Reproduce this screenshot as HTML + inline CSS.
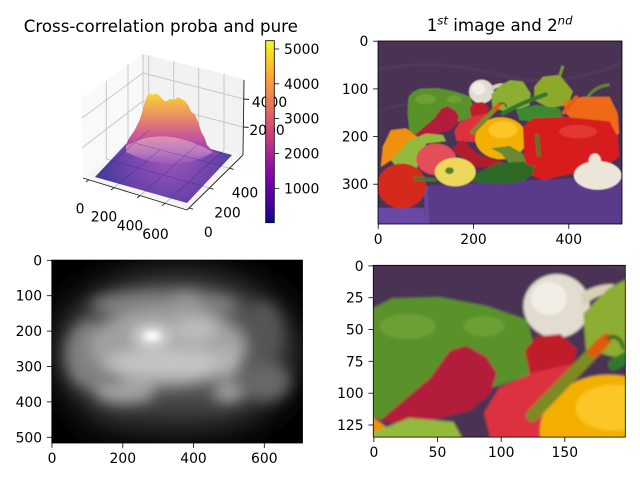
<!DOCTYPE html>
<html><head><meta charset="utf-8"><style>
html,body{margin:0;padding:0;background:#fff;width:640px;height:480px;overflow:hidden;}
svg{display:block;}
text{font-family:"DejaVu Sans","Liberation Sans",sans-serif;fill:#000;}
</style></head><body>
<svg width="640" height="480" viewBox="0 0 640 480" xmlns="http://www.w3.org/2000/svg" style="position:absolute;left:0;top:0;overflow:hidden">
<defs>
<linearGradient id="plasma" x1="0" y1="1" x2="0" y2="0">
<stop offset="0" stop-color="#0d0887"/><stop offset="0.1" stop-color="#41049d"/><stop offset="0.2" stop-color="#6a00a8"/><stop offset="0.3" stop-color="#8f0da4"/><stop offset="0.4" stop-color="#b12a90"/><stop offset="0.5" stop-color="#cc4778"/><stop offset="0.6" stop-color="#e16462"/><stop offset="0.7" stop-color="#f2844b"/><stop offset="0.8" stop-color="#fca636"/><stop offset="0.9" stop-color="#fcce25"/><stop offset="1" stop-color="#f0f921"/>
</linearGradient>
<radialGradient id="floorG" gradientUnits="userSpaceOnUse" cx="170" cy="152" r="70">
<stop offset="0" stop-color="#a458b8"/><stop offset="0.5" stop-color="#7a48b0"/><stop offset="1" stop-color="#4a3c9c"/>
</radialGradient>
<linearGradient id="bumpG" gradientUnits="userSpaceOnUse" x1="0" y1="92" x2="0" y2="155">
<stop offset="0" stop-color="#f6e03a"/><stop offset="0.12" stop-color="#f6c040"/><stop offset="0.3" stop-color="#eea05a"/><stop offset="0.5" stop-color="#e07878"/><stop offset="0.7" stop-color="#c85a98"/><stop offset="0.85" stop-color="#a848b0"/><stop offset="1" stop-color="#8a44b0"/>
</linearGradient>
<linearGradient id="domeG" gradientUnits="userSpaceOnUse" x1="0" y1="134" x2="0" y2="172">
<stop offset="0" stop-color="#e498b0"/><stop offset="0.5" stop-color="#b878c0"/><stop offset="1" stop-color="#9458b8" stop-opacity="0"/>
</linearGradient>
<filter id="bBig" x="-50%" y="-50%" width="200%" height="200%"><feGaussianBlur stdDeviation="18"/></filter>
<filter id="bMed" x="-50%" y="-50%" width="200%" height="200%"><feGaussianBlur stdDeviation="7"/></filter>
<filter id="bSm" x="-50%" y="-50%" width="200%" height="200%"><feGaussianBlur stdDeviation="3"/></filter>
<filter id="bImg"><feGaussianBlur stdDeviation="1.1"/></filter>
<clipPath id="clipGray"><rect x="51.8" y="260.1" width="250.7" height="182.9"/></clipPath>
<g id="scene">
<rect x="-20" y="-20" width="552" height="424" fill="#4a3252"/>
<path d="M0,60 Q120,35 250,70 T512,45" stroke="#543a5e" stroke-width="8" fill="none" opacity="0.6"/>
<path d="M0,150 Q60,120 140,140" stroke="#553b60" stroke-width="6" fill="none" opacity="0.5"/>
<polygon points="96,304 200,298 408,288 532,284 532,404 100,404" fill="#5a3b8a"/>
<polygon points="-20,350 96,350 102,404 -20,404" fill="#6a4aa6"/>
<polygon points="96,304 104,304 108,404 100,404" fill="#6648a0"/>
<path d="M62,150 L64,118 L72,108 L88,100 L125,99 L162,106 L194,117 L198,133 L196,160 L120,186 L80,196 L66,190 Z" fill="#5a922c"/>
<ellipse cx="100" cy="122" rx="22" ry="10" fill="#78aa3a" opacity="0.6"/>
<ellipse cx="160" cy="122" rx="16" ry="8" fill="#78aa3a" opacity="0.6"/>
<ellipse cx="217" cy="106" rx="26" ry="25" fill="#e2ddd0"/>
<ellipse cx="211" cy="100" rx="14" ry="13" fill="#f2eee6"/>
<path d="M236,96 Q250,88 262,89 L262,95 Q248,97 238,106Z" fill="#d8d0b8"/>
<polygon points="238,112 258,92 278,82 304,85 320,110 318,135 300,142 262,146 240,140" fill="#8cae32"/>
<polygon points="328,124 328,96 346,75 381,71 409,106 398,134 360,141" fill="#8ea82c"/>
<path d="M381,74 L388,52" stroke="#7a9a2a" stroke-width="6" fill="none"/>
<polygon points="290,145 332,134 381,141 388,162 325,169 297,166" fill="#3a8a30"/>
<path d="M262,152 Q300,130 352,112" stroke="#2f7a2a" stroke-width="9" stroke-linecap="round" fill="none"/>
<polygon points="388,127 430,117 486,117 503,152 506,194 486,208 416,173 395,152" fill="#ee6a12"/>
<path d="M440,118 Q455,95 486,92" stroke="#5a8a30" stroke-width="6" fill="none"/>
<path d="M390,150 L416,118" stroke="#e06010" stroke-width="8" stroke-linecap="round" fill="none"/>
<polygon points="192,141 201,130 220,128 233,140 230,152 196,160" fill="#c01c2a"/>
<polygon points="160,190 172,170 200,158 228,152 224,172 208,186 205,212 165,210" fill="#dc3040"/>
<ellipse cx="258" cy="204" rx="54" ry="44" fill="#f4b000"/>
<ellipse cx="262" cy="186" rx="30" ry="18" fill="#fccc30" opacity="0.8"/>
<path d="M198,192 L252,136" stroke="#7e8a22" stroke-width="10" stroke-linecap="round" fill="none"/>
<path d="M246,142 L256,132" stroke="#e05a10" stroke-width="9" stroke-linecap="round" fill="none"/>
<path d="M256,132 Q266,126 270,140" stroke="#3a6a20" stroke-width="3" fill="none"/>
<polygon points="304,180 325,162 388,159 486,169 503,201 506,243 486,257 416,276 346,292 318,280 307,243" fill="#d61e1c"/>
<ellipse cx="420" cy="190" rx="40" ry="14" fill="#e84a40" opacity="0.6"/>
<path d="M333,195 L338,242" stroke="#4a7a28" stroke-width="8" fill="none"/>
<ellipse cx="461" cy="282" rx="50" ry="30" fill="#ebe5da"/>
<ellipse cx="455" cy="252" rx="13" ry="16" fill="#ebe5da"/>
<polygon points="6,264 10,222 27,187 59,183 83,201 73,222 38,243" fill="#f0900e"/>
<polygon points="78,196 91,185 118,162 133,141 146,137 162,146 170,159 165,175 149,188 118,196 91,198" fill="#b41e3a"/>
<polygon points="27,250 66,208 101,194 136,197 143,210 101,215 87,250 80,271 45,271" fill="#94ba3c"/>
<ellipse cx="122" cy="248" rx="42" ry="33" fill="#e25058"/>
<polygon points="157,225 178,208 199,229 220,243 262,253 255,264 206,264 164,236" fill="#b21a2c"/>
<polygon points="237,225 276,220 304,236 311,257 276,257 258,236" fill="#6a8a30"/>
<polygon points="192,295 206,278 248,257 304,253 325,264 331,257 325,278 304,295 262,300" fill="#2e6a28"/>
<ellipse cx="162" cy="275" rx="43" ry="30" fill="#ecd85a"/>
<ellipse cx="150" cy="272" rx="9" ry="7" fill="#5a7a30"/>
<ellipse cx="50" cy="304" rx="51" ry="47" fill="#d42a1e"/>
<path d="M75,288 L122,292" stroke="#3a7a30" stroke-width="8" fill="none"/>
</g>
<pattern id="patTop" patternUnits="userSpaceOnUse" x="378" y="41" width="244" height="183" viewBox="0 0 512 384" preserveAspectRatio="none">
<use href="#scene" filter="url(#bImg)"/>
</pattern>
<pattern id="patCrop" patternUnits="userSpaceOnUse" x="373.3" y="265.3" width="252" height="171.8" viewBox="73 74 198 135" preserveAspectRatio="none">
<use href="#scene" filter="url(#bImg)"/>
</pattern>
</defs>

<!-- ============ Top-left 3D ============ -->
<text x="160.8" y="32" font-size="16.67" text-anchor="middle">Cross-correlation proba and pure</text>
<polygon points="82,98 143,54 143,129 83,178" fill="#f9f9f9"/>
<polygon points="143,54 245,79 243,155 143,129" fill="#f2f2f2"/>
<polygon points="83,178 143,129 243,155 187,210" fill="#f5f5f5"/>
<g stroke="#c8c8c8" stroke-width="1" fill="none">
<line x1="106.3" y1="80.5" x2="106.3" y2="159"/>
<line x1="128" y1="64.9" x2="128" y2="141.3"/>
<line x1="82" y1="148" x2="143" y2="101"/>
<line x1="82" y1="118" x2="143" y2="73"/>
<line x1="148.7" y1="55.4" x2="148.7" y2="130.5"/>
<line x1="173.7" y1="61.5" x2="173.7" y2="137"/>
<line x1="198.7" y1="67.7" x2="198.7" y2="143.5"/>
<line x1="224" y1="73.9" x2="224" y2="150.1"/>
<line x1="143" y1="101" x2="243" y2="127"/>
<line x1="143" y1="73" x2="244" y2="99"/>
<line x1="143" y1="54" x2="143" y2="129"/>
</g>
<polygon points="95,177 140,129 232,155 187,203" fill="url(#floorG)"/>
<path d="M126,145 L128,140 L134.7,130 L139.7,120 L144.7,103 L147,96 L149.5,93 L153,95 L156,93 L160,96 L163,100 L166,101.5 L170,99 L174.7,99.5 L178,97 L181.3,99 L185,101 L188,105 L191.3,111.7 L194.7,114.5 L198,121.7 L201.3,131.7 L204.7,138 L207,145 L213,151.5 L220,154.5 L205,156 L170,153 L140,153 Z" fill="url(#bumpG)"/>
<path d="M126,146 Q163,124 213,152 Q175,176 126,152 Z" fill="url(#domeG)"/>
<g stroke="#2a1a60" stroke-width="0.8" opacity="0.3">
<line x1="98" y1="175" x2="148.7" y2="130.5"/>
<line x1="114" y1="187.6" x2="160" y2="150"/>
<line x1="140" y1="195.6" x2="198.7" y2="143.5"/>
<line x1="165" y1="203.3" x2="224" y2="150.1"/>
<line x1="106.3" y1="159" x2="209.4" y2="188"/>
<line x1="128" y1="141.3" x2="229.6" y2="168.2"/>
</g>
<g stroke="#222" stroke-width="0.9" fill="none">
<line x1="83" y1="178" x2="187" y2="210"/>
<line x1="187" y1="210" x2="243" y2="155"/>
<line x1="244" y1="80" x2="243" y2="155"/>
<line x1="88.8" y1="179.8" x2="86" y2="182"/>
<line x1="114" y1="187.6" x2="111" y2="190"/>
<line x1="140" y1="195.6" x2="137" y2="198"/>
<line x1="165" y1="203.3" x2="162" y2="205.7"/>
<line x1="189" y1="208" x2="193" y2="209.2"/>
<line x1="209.4" y1="188" x2="213.4" y2="189.2"/>
<line x1="229.6" y1="168.2" x2="233.6" y2="169.4"/>
<line x1="244" y1="99" x2="249" y2="99.5"/>
<line x1="243.6" y1="127" x2="248.6" y2="127.5"/>
</g>
<g font-size="13.89" text-anchor="middle">
<text x="80" y="213.3">0</text>
<text x="104" y="221.3">200</text>
<text x="130" y="230.3">400</text>
<text x="155.5" y="239">600</text>
<text x="245" y="197.3">400</text>
<text x="227.5" y="217.3">200</text>
<text x="208.3" y="237">0</text>
<text x="269.5" y="106.8">4000</text>
<text x="267" y="135.1">2000</text>
</g>
<rect x="265.7" y="40.7" width="8.6" height="182" fill="url(#plasma)" stroke="#000" stroke-width="0.8"/>
<g stroke="#000" stroke-width="0.8">
<line x1="274.3" y1="188.3" x2="279.2" y2="188.3"/>
<line x1="274.3" y1="153.5" x2="279.2" y2="153.5"/>
<line x1="274.3" y1="118.6" x2="279.2" y2="118.6"/>
<line x1="274.3" y1="83.8" x2="279.2" y2="83.8"/>
<line x1="274.3" y1="49" x2="279.2" y2="49"/>
</g>
<g font-size="13.89">
<text x="284" y="193.3">1000</text>
<text x="284" y="158.5">2000</text>
<text x="284" y="123.6">3000</text>
<text x="284" y="88.8">4000</text>
<text x="284" y="54">5000</text>
</g>

<!-- ============ Top-right image ============ -->
<text x="426.7" y="31" font-size="16.67">1<tspan font-size="11.7" font-style="italic" dy="-6.5">st</tspan><tspan dy="6.5"> image and 2</tspan><tspan font-size="11.7" font-style="italic" dy="-6.5">nd</tspan></text>
<rect x="378" y="41" width="244" height="183" fill="url(#patTop)"/>
<rect x="378" y="41" width="244" height="183" fill="none" stroke="#000" stroke-width="0.8"/>
<g stroke="#000" stroke-width="0.8">
<line x1="378.2" y1="224" x2="378.2" y2="228.9"/>
<line x1="473.5" y1="224" x2="473.5" y2="228.9"/>
<line x1="568.8" y1="224" x2="568.8" y2="228.9"/>
<line x1="378" y1="41.2" x2="373.1" y2="41.2"/>
<line x1="378" y1="88.9" x2="373.1" y2="88.9"/>
<line x1="378" y1="136.5" x2="373.1" y2="136.5"/>
<line x1="378" y1="184.2" x2="373.1" y2="184.2"/>
</g>
<g font-size="13.89" text-anchor="middle">
<text x="378.2" y="244">0</text>
<text x="473.5" y="244">200</text>
<text x="568.8" y="244">400</text>
</g>
<g font-size="13.89" text-anchor="end">
<text x="368.3" y="46.2">0</text>
<text x="368.3" y="93.9">100</text>
<text x="368.3" y="141.5">200</text>
<text x="368.3" y="189.2">300</text>
</g>

<!-- ============ Bottom-left gray ============ -->
<g clip-path="url(#clipGray)">
<rect x="51.8" y="260.1" width="250.7" height="182.9" fill="#000"/>
<g filter="url(#bBig)">
<ellipse cx="177" cy="352" rx="120" ry="80" fill="#303030"/>
<ellipse cx="175" cy="350" rx="108" ry="66" fill="#5a5a5a"/>
<ellipse cx="170" cy="415" rx="85" ry="14" fill="#363636"/>
</g>
<g filter="url(#bMed)">
<ellipse cx="165" cy="305" rx="74" ry="14" fill="#808080"/>
<ellipse cx="262" cy="330" rx="20" ry="28" fill="#555"/>
<ellipse cx="90" cy="355" rx="24" ry="34" fill="#808080"/>
<ellipse cx="266" cy="382" rx="24" ry="19" fill="#686868"/>
<ellipse cx="168" cy="347" rx="78" ry="40" fill="#a0a0a0"/>
<ellipse cx="172" cy="363" rx="66" ry="14" fill="#c4c4c4"/>
<ellipse cx="195" cy="330" rx="22" ry="13" fill="#bcbcbc"/>
<ellipse cx="226" cy="362" rx="14" ry="16" fill="#b4b4b4"/>
<ellipse cx="228" cy="392" rx="15" ry="10" fill="#a0a0a0"/>
<ellipse cx="125" cy="392" rx="30" ry="11" fill="#a4a4a4"/>
<ellipse cx="187" cy="300" rx="15" ry="10" fill="#949494"/>
<ellipse cx="152" cy="336" rx="18" ry="10" fill="#e0e0e0"/>
</g>
<ellipse cx="152" cy="336" rx="8" ry="5" fill="#fafafa" filter="url(#bSm)"/>
</g>
<rect x="51.8" y="260.1" width="250.7" height="182.9" fill="none" stroke="#000" stroke-width="0.8"/>
<g stroke="#000" stroke-width="0.8">
<line x1="52" y1="443" x2="52" y2="447.9"/>
<line x1="122.8" y1="443" x2="122.8" y2="447.9"/>
<line x1="193.5" y1="443" x2="193.5" y2="447.9"/>
<line x1="264.3" y1="443" x2="264.3" y2="447.9"/>
<line x1="51.8" y1="260.3" x2="46.9" y2="260.3"/>
<line x1="51.8" y1="295.7" x2="46.9" y2="295.7"/>
<line x1="51.8" y1="331.1" x2="46.9" y2="331.1"/>
<line x1="51.8" y1="366.5" x2="46.9" y2="366.5"/>
<line x1="51.8" y1="401.9" x2="46.9" y2="401.9"/>
<line x1="51.8" y1="437.3" x2="46.9" y2="437.3"/>
</g>
<g font-size="13.89" text-anchor="middle">
<text x="52" y="462.8">0</text>
<text x="122.8" y="462.8">200</text>
<text x="193.5" y="462.8">400</text>
<text x="264.3" y="462.8">600</text>
</g>
<g font-size="13.89" text-anchor="end">
<text x="42.1" y="265.3">0</text>
<text x="42.1" y="300.7">100</text>
<text x="42.1" y="336.1">200</text>
<text x="42.1" y="371.5">300</text>
<text x="42.1" y="406.9">400</text>
<text x="42.1" y="442.3">500</text>
</g>

<!-- ============ Bottom-right crop ============ -->
<rect x="373.3" y="265.3" width="252" height="171.8" fill="url(#patCrop)"/>
<rect x="373.3" y="265.3" width="252" height="171.8" fill="none" stroke="#000" stroke-width="0.8"/>
<g stroke="#000" stroke-width="0.8">
<line x1="373.9" y1="437.1" x2="373.9" y2="442"/>
<line x1="437.5" y1="437.1" x2="437.5" y2="442"/>
<line x1="501.2" y1="437.1" x2="501.2" y2="442"/>
<line x1="564.8" y1="437.1" x2="564.8" y2="442"/>
<line x1="373.3" y1="265.9" x2="368.4" y2="265.9"/>
<line x1="373.3" y1="297.7" x2="368.4" y2="297.7"/>
<line x1="373.3" y1="329.5" x2="368.4" y2="329.5"/>
<line x1="373.3" y1="361.3" x2="368.4" y2="361.3"/>
<line x1="373.3" y1="393.2" x2="368.4" y2="393.2"/>
<line x1="373.3" y1="425" x2="368.4" y2="425"/>
</g>
<g font-size="13.89" text-anchor="middle">
<text x="373.9" y="456.9">0</text>
<text x="437.5" y="456.9">50</text>
<text x="501.2" y="456.9">100</text>
<text x="564.8" y="456.9">150</text>
</g>
<g font-size="13.89" text-anchor="end">
<text x="363.6" y="270.9">0</text>
<text x="363.6" y="302.7">25</text>
<text x="363.6" y="334.5">50</text>
<text x="363.6" y="366.3">75</text>
<text x="363.6" y="398.2">100</text>
<text x="363.6" y="430">125</text>
</g>
</svg>
</body></html>
